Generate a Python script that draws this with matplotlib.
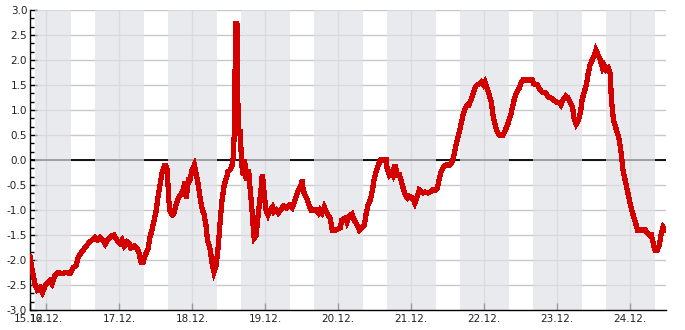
import numpy as np
import matplotlib
matplotlib.use("Agg")
import matplotlib.pyplot as plt
from matplotlib.ticker import MultipleLocator, FixedLocator

# Czas w dniach grudnia (np. 16.5 = 16.12. godz. 12:00)
czas = [
    15.78, 15.81, 15.85, 15.88, 15.92, 15.95, 15.99, 16.03, 16.05, 16.08,
    16.12, 16.16, 16.22, 16.27, 16.33, 16.37, 16.41, 16.44, 16.47, 16.51,
    16.55, 16.59, 16.63, 16.67, 16.70, 16.74, 16.78, 16.81, 16.85, 16.89,
    16.93, 16.97, 17.01, 17.04, 17.07, 17.11, 17.14, 17.16, 17.21, 17.25,
    17.27, 17.30, 17.33, 17.36, 17.40, 17.42, 17.45, 17.48, 17.51, 17.53,
    17.56, 17.59, 17.62, 17.64, 17.66, 17.67, 17.68, 17.70, 17.73, 17.75,
    17.78, 17.81, 17.84, 17.88, 17.90, 17.92, 17.95, 17.97, 18.00, 18.03,
    18.05, 18.08, 18.11, 18.14, 18.16, 18.19, 18.21, 18.25, 18.27, 18.30,
    18.33, 18.36, 18.38, 18.41, 18.44, 18.47, 18.49, 18.52, 18.55, 18.56,
    18.58, 18.59, 18.60, 18.62, 18.63, 18.64, 18.66, 18.67, 18.68, 18.70,
    18.71, 18.73, 18.74, 18.77, 18.78, 18.79, 18.82, 18.84, 18.85, 18.88,
    18.89, 18.92, 18.95, 18.96, 18.97, 18.99, 19.01, 19.04, 19.07, 19.10,
    19.12, 19.15, 19.18, 19.21, 19.25, 19.29, 19.33, 19.37, 19.41, 19.44,
    19.47, 19.48, 19.51, 19.52, 19.55, 19.58, 19.60, 19.63, 19.67, 19.70,
    19.73, 19.75, 19.78, 19.81, 19.84, 19.86, 19.89, 19.92, 19.97, 20.03,
    20.05, 20.10, 20.12, 20.15, 20.19, 20.22, 20.26, 20.29, 20.32, 20.36,
    20.38, 20.41, 20.44, 20.47, 20.49, 20.52, 20.55, 20.58, 20.62, 20.66,
    20.67, 20.70, 20.73, 20.75, 20.78, 20.81, 20.84, 20.86, 20.89, 20.92,
    20.95, 20.97, 21.00, 21.03, 21.05, 21.08, 21.11, 21.14, 21.16, 21.19,
    21.23, 21.26, 21.29, 21.33, 21.36, 21.38, 21.41, 21.44, 21.48, 21.52,
    21.55, 21.58, 21.60, 21.63, 21.66, 21.68, 21.71, 21.74, 21.77, 21.79,
    21.82, 21.85, 21.88, 21.90, 21.93, 21.96, 21.99, 22.01, 22.04, 22.07,
    22.10, 22.12, 22.15, 22.18, 22.21, 22.23, 22.26, 22.29, 22.32, 22.34,
    22.37, 22.40, 22.42, 22.45, 22.48, 22.51, 22.53, 22.58, 22.62, 22.66,
    22.68, 22.73, 22.75, 22.79, 22.84, 22.88, 22.92, 22.95, 22.99, 23.03,
    23.05, 23.08, 23.12, 23.15, 23.18, 23.21, 23.23, 23.26, 23.29, 23.32,
    23.34, 23.37, 23.40, 23.42, 23.45, 23.48, 23.51, 23.53, 23.56, 23.59,
    23.62, 23.64, 23.67, 23.70, 23.73, 23.74, 23.77, 23.79, 23.82, 23.85,
    23.88, 23.90, 23.93, 23.96, 23.99, 24.01, 24.04, 24.07, 24.10, 24.14,
    24.18, 24.21, 24.23, 24.26, 24.29, 24.32, 24.34, 24.37, 24.40, 24.42,
    24.45, 24.48,
]

wartosci = [
    -1.93, -2.2, -2.5, -2.6, -2.55, -2.65, -2.5, -2.45, -2.42, -2.48,
    -2.32, -2.25, -2.27, -2.25, -2.27, -2.15, -2.12, -1.95, -1.88, -1.8,
    -1.72, -1.65, -1.6, -1.55, -1.6, -1.55, -1.6, -1.68, -1.58, -1.52,
    -1.5, -1.6, -1.66, -1.6, -1.72, -1.64, -1.68, -1.76, -1.72, -1.78,
    -1.84, -2.04, -2.04, -1.9, -1.76, -1.56, -1.4, -1.2, -1.0, -0.76,
    -0.5, -0.24, -0.12, -0.12, -0.2, -0.5, -0.8, -1.04, -1.1, -1.08,
    -0.9, -0.76, -0.7, -0.6, -0.44, -0.76, -0.4, -0.4, -0.2, -0.1,
    -0.24, -0.46, -0.76, -1.0, -1.06, -1.3, -1.6, -1.8, -2.04, -2.24,
    -2.1, -1.7, -1.3, -0.8, -0.5, -0.36, -0.24, -0.2, -0.1, 0.0,
    0.6, 2.0, 2.76, 2.7, 0.6, 0.5, 0.6, 0.2, -0.1, -0.3,
    0.0, -0.1, -0.4, -0.2, -0.3, -0.5, -1.0, -1.4, -1.56, -1.5,
    -1.3, -0.9, -0.5, -0.3, -0.4, -0.7, -1.0, -1.1, -1.0, -0.94,
    -1.04, -1.0, -1.06, -1.0, -0.92, -0.96, -0.9, -0.96, -0.8, -0.66,
    -0.56, -0.56, -0.4, -0.6, -0.72, -0.8, -0.9, -1.0, -1.0, -1.0,
    -1.06, -1.0, -1.06, -0.94, -1.04, -1.1, -1.16, -1.4, -1.4, -1.36,
    -1.2, -1.16, -1.24, -1.12, -1.08, -1.2, -1.3, -1.4, -1.36, -1.3,
    -1.1, -0.9, -0.8, -0.6, -0.4, -0.24, -0.1, 0.0, 0.0, 0.0,
    -0.16, -0.3, -0.24, -0.3, -0.1, -0.3, -0.3, -0.4, -0.56, -0.7,
    -0.76, -0.72, -0.74, -0.8, -0.86, -0.74, -0.6, -0.64, -0.66, -0.64,
    -0.66, -0.64, -0.6, -0.6, -0.56, -0.4, -0.24, -0.14, -0.1, -0.1,
    -0.06, 0.04, 0.2, 0.4, 0.56, 0.7, 0.9, 1.04, 1.1, 1.1,
    1.2, 1.34, 1.46, 1.5, 1.52, 1.56, 1.5, 1.56, 1.44, 1.3,
    1.14, 0.9, 0.7, 0.56, 0.5, 0.5, 0.5, 0.6, 0.7, 0.8,
    0.94, 1.14, 1.26, 1.36, 1.44, 1.56, 1.6, 1.6, 1.6, 1.6,
    1.52, 1.5, 1.44, 1.36, 1.34, 1.26, 1.24, 1.2, 1.16, 1.14,
    1.1, 1.2, 1.28, 1.24, 1.14, 1.06, 0.84, 0.72, 0.8, 0.96,
    1.2, 1.36, 1.5, 1.7, 1.9, 2.0, 2.1, 2.2, 2.1, 2.0,
    1.84, 1.9, 1.8, 1.84, 1.7, 1.24, 0.8, 0.7, 0.56, 0.4,
    0.1, -0.2, -0.4, -0.6, -0.8, -0.94, -1.1, -1.24, -1.4, -1.4,
    -1.4, -1.4, -1.46, -1.5, -1.5, -1.7, -1.8, -1.8, -1.7, -1.5,
    -1.34, -1.4,
]

# Dni z etykietami na osi X
dni = [16, 17, 18, 19, 20, 21, 22, 23, 24]
etykiety_dni = ["16.12.", "17.12.", "18.12.", "19.12.", "20.12.",
                "21.12.", "22.12.", "23.12.", "24.12."]
etykieta_start = "15.12."

x_min, x_max = 15.78, 24.49
y_min, y_max = -3.0, 3.0


def plot_data(czas, wartosci):
    fig = plt.figure(figsize=(6.85, 3.3), dpi=100)
    ax = fig.add_axes([30 / 685, 20 / 330, 636 / 685, 300 / 330])

    # Siatka
    for d in dni:
        ax.axvline(d, color="#cfcfcf", lw=1, zorder=1)
    for v in np.arange(-2.5, 3.01, 0.5):
        ax.axhline(v, color="#c8c8c8", lw=1, zorder=1)
    ax.axhline(0, color="black", lw=1.3, zorder=1.5)

    # Pasy w tle (ok. 8 h przed i po północy)
    for d in dni:
        lewy = max(d - 0.335, 15.85)
        ax.axvspan(lewy, d + 0.335, color=(224 / 255, 225 / 255, 231 / 255),
                   alpha=0.69, lw=0, zorder=2)

    ax.plot(czas, wartosci, color="#d40000", lw=3, zorder=3,
            solid_joinstyle="miter", antialiased=False)

    ax.set_xlim(x_min, x_max)
    ax.set_ylim(y_min, y_max)

    # Osie
    for s in ["top", "right"]:
        ax.spines[s].set_visible(False)
    ax.spines["left"].set_linewidth(1)
    ax.spines["bottom"].set_linewidth(1)

    ax.xaxis.set_major_locator(FixedLocator([x_min] + dni))
    ax.set_xticklabels([etykieta_start] + etykiety_dni)
    ax.yaxis.set_major_locator(MultipleLocator(0.5))
    ax.yaxis.set_minor_locator(MultipleLocator(0.5 / 3))
    ax.set_yticklabels([f"{v:.1f}" for v in ax.get_yticks()])

    ax.tick_params(axis="both", which="major", direction="in", length=5,
                   width=1, labelsize=7.5, labelcolor="#222222", color="black")
    ax.tick_params(axis="y", which="minor", direction="in", length=3, width=1)
    ax.tick_params(axis="x", pad=3)
    ax.tick_params(axis="y", pad=2)

    fig.savefig("out.png", dpi=100)


def main():
    plot_data(czas, wartosci)


if __name__ == "__main__":
    main()
